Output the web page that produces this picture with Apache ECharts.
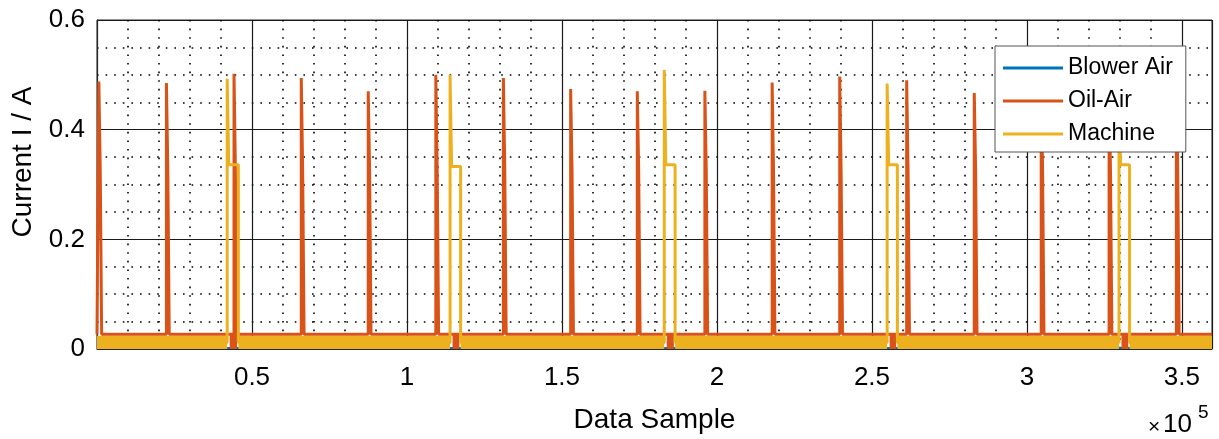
<!DOCTYPE html>
<html>
<head>
<meta charset="utf-8">
<title>Current I / A</title>
<script src="https://cdn.jsdelivr.net/npm/echarts@6/dist/echarts.min.js"></script>
<style>
html, body { margin: 0; padding: 0; background: #fff; }
#chart1 { width: 1219px; height: 439px; }
</style>
</head>
<body>
<div id="chart1"></div>
<script>
// Oil-Air: where each spike starts (sample) and its peak current
var oilSpikeX = [600, 22400, 44200, 65900, 87500, 109300, 131100, 152800, 174300, 196100, 217800, 239600, 261200, 283000, 304600, 326500, 348200];
var oilSpikePeak = [0.488, 0.485, 0.502, 0.494, 0.470, 0.500, 0.494, 0.474, 0.470, 0.471, 0.486, 0.497, 0.490, 0.467, 0.485, 0.490, 0.480];
var oilSpikeStep = 0.325;
var oilBase = 0.027;

// Machine: on / off samples, start peak and running level
var machineOnX = [42000, 113900, 183000, 254900, 329700];
var machineOffX = [45600, 117300, 186500, 258200, 333100];
var machinePeak = [0.493, 0.500, 0.509, 0.484, 0.490];
var machinePlateau = [0.336, 0.333, 0.336, 0.336, 0.336];
var machineBase = 0.012;
var machineBandTop = 0.024;

// Blower Air stays near zero (hidden under the others)
var blowerLevel = 0.002;

var sampleMax = 359700;
var xTicks = [50000, 100000, 150000, 200000, 250000, 300000, 350000];

var fontName = 'Liberation Sans';
var blue = '#0072BD', orange = '#D95319', yellow = '#EDB120';

// build line data
var oilData = [[0, oilBase]];
oilSpikeX.forEach(function (x, i) {
    oilData.push([x, oilBase], [x, oilSpikePeak[i]], [x + 450, oilSpikePeak[i]],
        [x + 450, oilSpikeStep], [x + 900, oilSpikeStep], [x + 900, oilBase]);
});
oilData.push([sampleMax, oilBase]);

var machineData = [[0, machineBase]];
machineOnX.forEach(function (x, i) {
    machineData.push([x, machineBase], [x, machinePeak[i]], [x + 500, machinePeak[i]],
        [x + 500, machinePlateau[i]], [machineOffX[i], machinePlateau[i]], [machineOffX[i], machineBase]);
});
machineData.push([sampleMax, machineBase]);

var blowerData = [[0, blowerLevel], [sampleMax, blowerLevel]];

// dense noise at the bottom, drawn as filled pieces
// machine idle noise fills 0..machineBandTop between runs
var machineBandData = [];
var prev = 0;
machineOnX.forEach(function (x, i) {
    machineBandData.push([prev, machineBandTop], [x, machineBandTop], [x, null]);
    prev = machineOffX[i];
});
machineBandData.push([prev, machineBandTop], [sampleMax, machineBandTop]);

// oil-air drops to zero while the machine runs
var oilDipData = [];
machineOnX.forEach(function (x, i) {
    oilDipData.push([x + 800, oilBase], [machineOffX[i] - 400, oilBase], [machineOffX[i] - 400, null]);
});

var myChart = echarts.init(document.getElementById('chart1'));
var option = {
    animation: false,
    textStyle: { fontFamily: fontName },
    grid: {
        left: 97, right: 7, top: 20, bottom: 89,
        show: true, borderColor: '#262626', borderWidth: 1
    },
    legend: {
        orient: 'vertical',
        left: 995, top: 46,
        padding: [10, 13, 6, 8],
        itemGap: 9,
        itemWidth: 60, itemHeight: 3,
        icon: 'rect',
        backgroundColor: '#fff',
        borderColor: '#555', borderWidth: 1,
        textStyle: { fontFamily: fontName, fontSize: 23, color: '#000', lineHeight: 24 },
        data: ['Blower Air', 'Oil-Air', 'Machine']
    },
    xAxis: {
        type: 'value',
        min: 0, max: sampleMax, interval: 50000,
        name: 'Data Sample',
        nameLocation: 'middle',
        nameGap: 57,
        nameTextStyle: { fontFamily: fontName, fontSize: 28, color: '#000' },
        axisLine: { lineStyle: { color: '#262626' } },
        axisTick: { show: false },
        axisLabel: {
            fontFamily: fontName, fontSize: 26, color: '#000', margin: 16,
            formatter: function (v) { return xTicks.indexOf(v) >= 0 ? String(v / 100000) : ''; }
        },
        splitLine: { lineStyle: { color: '#1a1a1a', width: 1.2 } },
        minorTick: { show: false, splitNumber: 5 },
        minorSplitLine: { show: true, lineStyle: { color: '#000', width: 1.6, type: [1.6, 7] } }
    },
    yAxis: {
        type: 'value',
        min: 0, max: 0.6, interval: 0.2,
        name: 'Current I / A',
        nameLocation: 'middle',
        nameGap: 60,
        nameTextStyle: { fontFamily: fontName, fontSize: 28, color: '#000', padding: [0, 0, 0, 45] },
        axisLine: { show: true, lineStyle: { color: '#262626' } },
        axisTick: { show: false },
        axisLabel: {
            fontFamily: fontName, fontSize: 26, color: '#000', margin: 12,
            formatter: function (v) { return v === 0 ? '0' : v.toFixed(1); }
        },
        splitLine: { lineStyle: { color: '#1a1a1a', width: 1.2 } },
        minorTick: { show: false, splitNumber: 4 },
        minorSplitLine: { show: true, lineStyle: { color: '#000', width: 1.6, type: [1.6, 7] } }
    },
    graphic: [
        { type: 'text', left: 1148, top: 417, style: { text: '\u00d7', fontFamily: fontName, fontSize: 21, fill: '#000' } },
        { type: 'text', left: 1163, top: 412, style: { text: '10', fontFamily: fontName, fontSize: 26, fill: '#000' } },
        { type: 'text', left: 1198, top: 403, style: { text: '5', fontFamily: fontName, fontSize: 19, fill: '#000' } }
    ],
    series: [
        {
            name: 'Blower Air', type: 'line', data: blowerData, z: 1,
            showSymbol: false, color: blue, lineStyle: { width: 2, color: blue }
        },
        {
            name: 'Machine', type: 'line', data: machineBandData, connectNulls: false,
            showSymbol: false, color: yellow, lineStyle: { width: 0 },
            areaStyle: { color: yellow, opacity: 1 }, emphasis: { disabled: true }
        },
        {
            name: 'Oil-Air', type: 'line', data: oilDipData, connectNulls: false,
            showSymbol: false, color: orange, lineStyle: { width: 0 },
            areaStyle: { color: orange, opacity: 1 }, emphasis: { disabled: true }
        },
        {
            name: 'Oil-Air', type: 'line', data: oilData,
            showSymbol: false, color: orange, lineStyle: { width: 3, color: orange }
        },
        {
            name: 'Machine', type: 'line', data: machineData,
            showSymbol: false, color: yellow, lineStyle: { width: 3, color: yellow }
        }
    ]
};
myChart.setOption(option);
</script>
</body>
</html>
